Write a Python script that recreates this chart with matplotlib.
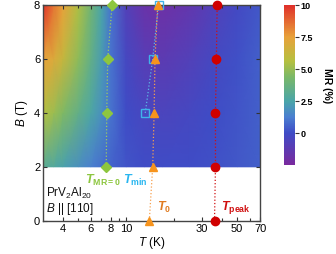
import numpy as np
import matplotlib
matplotlib.use("Agg")
import matplotlib.pyplot as plt
from matplotlib.colors import LinearSegmentedColormap
from matplotlib.ticker import FixedLocator, NullFormatter

plt.rcParams['font.family'] = ['Liberation Sans', 'DejaVu Sans']
plt.rcParams['mathtext.fontset'] = 'custom'
plt.rcParams['mathtext.rm'] = 'Liberation Sans'
plt.rcParams['mathtext.it'] = 'Liberation Sans:italic'
plt.rcParams['mathtext.bf'] = 'Liberation Sans:bold'
plt.rcParams['mathtext.bfit'] = 'Liberation Sans:bold:italic'

# ---- data ----
T_grid = [3, 3.5, 4, 5, 6, 7, 8, 10, 13, 17, 25, 35, 50, 70]
B_grid = [2, 4, 6, 8]
MR_B2 = [3.2, 2.8, 2.4, 1.8, 1.3, 0.9, 0.6, 0.2, 0.0, 0.0, 0.0, 0.1, 0.3, 0.5]
MR_B4 = [5.6, 5.1, 4.5, 3.5, 2.6, 1.8, 1.0, 0.0, -0.4, -0.5, -0.3, 0.0, 0.2, 0.5]
MR_B6 = [7.5, 7.0, 6.2, 4.8, 3.5, 2.2, 1.0, -0.3, -1.0, -1.2, -0.8, -0.3, 0.1, 0.5]
MR_B8 = [10.0, 8.5, 7.5, 5.5, 4.0, 2.5, 1.0, -0.8, -1.8, -2.0, -1.5, -0.8, -0.2, 0.3]

B_mr0 = [2, 4, 6, 8]
T_mr0 = [7.5, 7.55, 7.66, 8.16]
B_min = [4, 6, 8]
T_min = [13.2, 14.7, 16.0]
B_t0 = [0, 2, 4, 6, 8]
T_t0 = [14.0, 14.7, 15.0, 15.2, 15.8]
B_peak = [0, 2, 4, 6, 8]
T_peak = [36.0, 36.5, 36.5, 37.0, 37.4]

x_ticks = [4, 6, 8, 10, 30, 50, 70]
y_ticks = [0, 2, 4, 6, 8]
cb_ticks = [0, 2.5, 5.0, 7.5, 10]

# ---- colormap ----
cmap = LinearSegmentedColormap.from_list('mr', [
    (0.00, '#7a2a9e'),
    (0.20, '#3f4cc6'),
    (0.30, '#4a7fd0'),
    (0.40, '#4aa5a8'),
    (0.55, '#7ab868'),
    (0.65, '#b5c040'),
    (0.80, '#e8a23a'),
    (1.00, '#e0302a'),
])

fig = plt.figure(figsize=(3.36, 2.54), dpi=100)
ax = fig.add_axes([0.128, 0.131, 0.647, 0.849])
cax = fig.add_axes([0.845, 0.350, 0.033, 0.630])

TT, BB = np.meshgrid(T_grid, B_grid)
Z = np.array([MR_B2, MR_B4, MR_B6, MR_B8])
pc = ax.pcolormesh(TT, BB, Z, cmap=cmap, vmin=-2.5, vmax=10, shading='gouraud', zorder=1)

ax.plot(T_mr0, B_mr0, ':', color='#9ccc60', lw=0.9, zorder=3)
ax.plot(T_mr0, B_mr0, 'D', color='#8dc63f', ms=5, mec='#8dc63f', zorder=4, clip_on=False)
ax.plot(T_min, B_min, ':', color='#5ab8e8', lw=0.9, zorder=3)
ax.plot(T_min, B_min, 's', mfc='none', mec='#3fb3ea', ms=6, mew=1.0, zorder=4, clip_on=False)
ax.plot(T_t0, B_t0, ':', color='#f7a050', lw=0.9, zorder=3)
ax.plot(T_t0, B_t0, '^', color='#f7941d', ms=5.5, zorder=5, clip_on=False)
ax.plot(T_peak, B_peak, ':', color='#d01010', lw=0.9, zorder=3)
ax.plot(T_peak, B_peak, 'o', color='#d00000', ms=6, zorder=4, clip_on=False)

ax.set_xscale('log')
ax.set_xlim(3, 70)
ax.set_ylim(0, 8)
ax.xaxis.set_major_locator(FixedLocator(x_ticks))
ax.set_xticklabels([str(t) for t in x_ticks])
ax.xaxis.set_minor_locator(FixedLocator([5, 7, 9, 20, 40, 60]))
ax.xaxis.set_minor_formatter(NullFormatter())
ax.set_yticks(y_ticks)
ax.tick_params(which='both', direction='in', top=True, right=True, labelsize=8,
               color='#333333', pad=2)
ax.tick_params(which='major', length=3, width=0.8)
ax.tick_params(which='minor', length=2, width=0.8)
for s in ax.spines.values():
    s.set_color('#444444')
    s.set_linewidth(1.0)
ax.set_xlabel('$T$ (K)', fontsize=8.5, labelpad=1)
ax.set_ylabel('$B$ (T)', fontsize=8.5, labelpad=3)

# text labels
ax.text(5.5, 1.5, r'$\mathbfit{T}_{\mathbf{MR=0}}$', color='#8dc63f', fontsize=9, va='center', ha='left')
ax.text(9.6, 1.5, r'$\mathbfit{T}_{\mathbf{min}}$', color='#29b6f0', fontsize=9, va='center', ha='left')
ax.text(15.7, 0.5, r'$\mathbfit{T}_{\mathbf{0}}$', color='#e07b20', fontsize=9, va='center', ha='left')
ax.text(39.5, 0.5, r'$\mathbfit{T}_{\mathbf{peak}}$', color='#d01010', fontsize=9, va='center', ha='left')
ax.text(3.15, 1.0, r'PrV$_2$Al$_{20}$', color='#111111', fontsize=8.5, va='center', ha='left')
ax.text(3.15, 0.42, r'$B$ || [110]', color='#111111', fontsize=8.5, va='center', ha='left')

cb = fig.colorbar(pc, cax=cax, ticks=cb_ticks)
cb.outline.set_visible(False)
cb.ax.set_yticklabels(['0', '2.5', '5.0', '7.5', '10'], fontweight='bold')
cb.ax.tick_params(labelsize=6.5, length=3, width=0.8, color='#333333', pad=1)
cb.set_label('MR (%)', rotation=-90, fontsize=7.5, fontweight='bold', labelpad=14)

fig.savefig('out.png', dpi=100)
